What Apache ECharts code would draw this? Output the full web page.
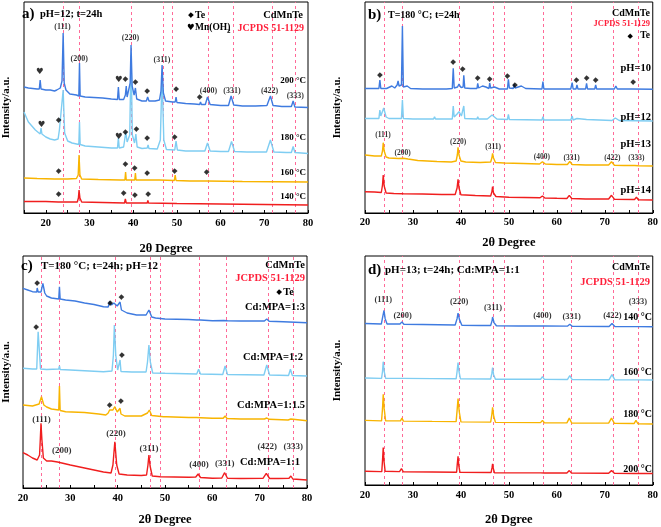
<!DOCTYPE html>
<html><head><meta charset="utf-8">
<script src="https://cdn.jsdelivr.net/npm/echarts@6/dist/echarts.min.js"></script>
<style>html,body{margin:0;padding:0;background:#fff}#c{width:661px;height:527px}</style>
</head><body><div id="c"></div>
<script>
// JCPDS 51-1129 reference positions (2θ)
const refLines = [23.95, 27.75, 39.55, 46.8, 49.0, 57.25, 63.0, 71.85, 77.0];
const tickLabels = [20, 30, 40, 50, 60, 70, 80];

// ---------- panel a: pH=12, t=24h, temperature series ----------
const a200 = [[15,126],[16,125],[17,124.5],[18,124],[18.5,124],[18.7,133],[18.9,124],[20,123],[21,123],[22,122],[22.5,123],[23.3,125],[23.7,132],[23.96,180],[24.2,130],[24.6,123],[25.5,119],[27,118],[27.55,117],[27.7,150],[27.85,117],[29,116],[31,115.5],[33,115],[35,114],[36.4,113.5],[36.6,126],[36.8,113.5],[37.8,113.5],[38.2,118],[38.4,127],[38.6,116],[39.0,117],[39.3,130],[39.5,168],[39.75,127],[40.2,118],[40.5,125],[40.8,114],[42,112],[43,112],[43.3,116],[43.6,112],[45,112],[46.0,113],[46.35,122],[46.6,148],[46.9,120],[47.4,112],[49,111],[49.6,111],[49.8,116],[50.0,110.5],[52,109.5],[54,109],[55.2,108.5],[55.4,111],[55.6,108.5],[56.5,108.5],[57.0,116],[57.6,108.5],[60,107.5],[61.8,107.5],[62.4,117],[63.0,108],[65,107],[68,107],[70.6,107.5],[71.4,117],[72.0,107.5],[74,106.5],[76.2,106.5],[76.6,112],[77.0,106],[80,105.5]];
const a180 = [[15,101],[16,91],[17,86],[17.6,83],[18.7,79],[18.9,85],[19.1,79],[20,76],[21,74],[22,73],[22.8,74],[23.1,83],[23.5,81],[23.96,123],[24.3,80],[25,72],[26,70],[27.55,68.5],[27.7,91],[27.85,68.5],[29,67],[32,66],[35,65],[36.4,65],[36.6,75],[36.8,65],[37.8,66],[38.3,81],[38.6,71],[39.2,78],[39.5,158],[39.8,78],[40.3,70],[40.6,79],[40.9,66],[42,64.5],[43.2,65],[43.4,68],[43.6,64.5],[45.5,64],[46.2,73],[46.6,138],[47.0,73],[47.6,63.5],[49.5,63],[49.8,72],[50.1,63],[52,62],[55,62],[56.4,62],[57.0,70],[57.6,62],[60,61.5],[61.8,61.5],[62.5,71.5],[63.2,61.5],[66,61],[70.5,61],[71.4,73],[72.2,61],[75,60.5],[76.2,60.5],[76.6,66.5],[77.0,60.5],[80,59.5]];
const a160 = [[15,35],[18,34.5],[22,34],[22.85,34],[23.0,36],[23.15,34],[25,34],[27.0,34.5],[27.4,38],[27.6,58],[27.8,38],[28.2,34],[32,33.5],[37,33],[38.1,33],[38.25,41],[38.4,33],[40.35,33],[40.5,40],[40.65,33],[43.2,33],[43.35,35],[43.5,33],[46,33],[49.4,32.5],[49.6,38],[49.8,32.5],[53,32],[56.8,32],[57.0,34],[57.2,32],[65,31.5],[80,31]];
const a140 = [[15,11.5],[20,11.5],[22.85,11],[23.0,13],[23.15,11],[27.2,11],[27.45,15],[27.6,23],[27.8,15],[28.2,11],[33,10.5],[38.0,10],[38.2,14],[38.4,10],[40.35,10],[40.5,12],[40.65,10],[43.2,10],[43.35,12.5],[43.5,10],[50,9.5],[60,9],[70,8.5],[80,8]];
const aHkl = [[23.8,186,'(111)'],[27.64,154,'(200)'],[39.37,175,'(220)'],[46.6,153,'(311)'],[57.2,122,'(400)'],[62.6,122,'(331)'],[71.2,122,'(422)'],[77.1,117,'(333)']];
const aTe = [[38.2,134],[40.5,131],[43.2,122],[49.8,124],[55.2,116],[22.9,93],[38.2,81],[40.7,84],[43.2,75],[49.5,76],[22.9,42],[38.2,49],[40.3,45],[43.2,40],[49.5,42],[56.8,41],[22.9,19],[37.8,20],[40.4,18],[43.4,19]];
const aMn = [[18.6,141],[36.7,133],[19.0,88],[36.7,76]];

// ---------- panel b: T=180 °C, t=24h, pH series ----------
const b10 = [[20,124.5],[22.9,124.5],[23.1,133],[23.3,124.5],[24.5,124.5],[25.6,127],[26.2,125],[26.7,128],[26.9,132],[27.1,127],[27.6,128],[27.8,187],[28.0,126],[28.8,127],[29.5,124.5],[32,124],[35,124],[37,124],[38.2,124.5],[38.4,144.7],[38.6,125],[39.3,126],[39.6,129],[40.0,125.5],[40.45,126],[40.6,137.7],[40.8,125],[42,124.5],[43.35,124.5],[43.5,129.7],[43.7,125],[44.5,127],[45.2,126],[45.85,124.5],[46.0,130],[46.2,125],[47.0,126],[48,124],[49.7,124],[49.9,133.7],[50.1,125],[50.9,124.5],[51.1,128.7],[51.3,125],[52.6,127],[53.5,124.5],[56.9,124],[57.1,131.3],[57.3,124],[62.9,124],[63.2,130.3],[63.4,124],[64.0,124],[64.2,128],[64.4,124],[66.0,124],[66.2,129.7],[66.4,124],[67.9,124],[68.1,128],[68.3,124],[72,124],[72.3,127],[72.6,124],[75.7,124],[75.9,125.7],[76.1,124],[80,123.7]];
const b12 = [[20,94.5],[22.9,94.5],[23.1,103],[23.3,97],[23.9,105],[24.4,96],[25,94.5],[27.6,94.5],[27.8,113],[28.0,94.5],[30,94],[34.3,94],[34.5,96.3],[34.7,94],[37,94],[38.2,94],[38.4,107],[38.6,96],[39.2,99],[39.6,101.3],[40.1,97],[40.45,97],[40.6,107],[40.8,94.5],[43.35,94],[43.5,96.3],[43.7,94],[45.5,94],[46.5,98],[46.9,98],[47.5,94],[49.7,93.5],[49.9,98.7],[50.1,93.5],[56.9,93],[57.1,96.3],[57.3,93],[62.9,93],[63.2,97],[63.4,93],[64.2,94.5],[66.2,93.5],[71.5,92.5],[72.2,95],[73,92.5],[80,92]];
const b13 = [[20,58],[22,57],[23.4,57],[23.65,62],[23.8,70.3],[24.0,62],[24.4,56],[25,55],[27,54.5],[28,54.8],[29,54],[31,52.5],[35,51.5],[38,51],[39.0,52],[39.25,58],[39.4,65.7],[39.6,58],[40.0,52],[41,51],[44,50.5],[46.2,51],[46.45,55],[46.6,59.7],[46.8,55],[47.2,50.5],[49,50],[53,49.5],[56.4,49],[57.0,51.3],[57.6,49],[60,48.5],[62.2,48.5],[62.7,51.5],[63.2,48.5],[66,48],[70.8,48],[71.4,51.3],[72.0,47.8],[74,47.5],[76.2,47.5],[76.6,49],[77.0,47.3],[80,47]];
const b14 = [[20,21.3],[22,21],[23.4,20.5],[23.65,28],[23.8,38],[24.0,27],[24.4,20],[26,19.5],[28,19.3],[32,19],[36,18.5],[38.8,18.5],[39.2,25],[39.4,33.7],[39.6,25],[40.0,18.3],[43,17.5],[46.2,17],[46.45,21],[46.6,26.3],[46.8,20],[47.3,16.5],[50,15.7],[56.5,15.2],[57.0,17],[57.5,15],[60,14.7],[62.1,14.5],[62.6,17.7],[63.1,14.5],[66,14],[70.8,14],[71.4,17.7],[72.0,13.8],[76.2,13.5],[76.6,15.7],[77.0,13.3],[80,13]];
const bHkl = [[23.75,78,'(111)'],[27.85,60,'(200)'],[39.4,71.3,'(220)'],[46.7,66.3,'(311)'],[56.9,56.3,'(400)'],[63.1,55.3,'(331)'],[71.6,55.3,'(422)'],[76.6,55.3,'(333)']];
const bTe = [[23.1,138],[38.4,150.7],[40.35,143.7],[43.5,134.7],[46.0,133.7],[49.7,137],[51.25,128],[64.1,133],[66.2,134.7],[68.1,133],[75.9,131.3]];

// ---------- panel c: T=180 °C, t=24h, pH=12, Cd:MPA series ----------
const c13 = [[20,199.7],[21,198],[22,196.3],[22.9,196],[23.0,200],[23.2,196],[23.8,196],[24.2,204.7],[24.6,195],[25,192],[26,190],[27.55,189],[27.7,201.3],[27.85,189],[29,188],[31,187],[33,185],[35,183.5],[37,181.3],[38.0,181],[38.3,186.3],[38.7,183],[39.2,185],[39.5,187],[39.9,182],[40.3,181],[40.5,186],[40.8,178],[42,175],[44,173],[46.0,173],[46.6,178],[47.2,171],[48,170],[50,169],[50.3,170],[55,168.5],[56.7,168],[57.1,170],[57.5,168],[60,167.3],[62.4,167.5],[62.8,169.5],[63.2,167.3],[66,167],[71.0,167],[71.5,169],[72.0,166.8],[75,166.3],[80,165.3]];
const c12 = [[20,119.7],[22,119],[22.9,119],[23.2,156.3],[23.7,119],[25,118.5],[27.55,119],[27.7,122],[27.85,118.5],[30,118],[34,117],[37,116.3],[38.8,117],[39.1,133],[39.3,163],[39.6,133],[40.0,118],[40.35,117],[40.5,128],[40.7,116.5],[43,116],[46.0,116],[46.3,126],[46.6,143],[46.9,126],[47.4,115],[50,114.7],[56.7,114],[57.1,118.7],[57.5,114],[62.2,113.5],[62.7,122],[63.2,113.5],[70.9,113],[71.5,123],[72.1,113],[76.1,112.5],[76.5,118.7],[76.9,112.5],[80,112]];
const c15 = [[20,83],[22,82],[23.4,84],[23.9,91.3],[24.4,83],[25,81],[26,79],[27.55,78],[27.7,102],[27.85,77.5],[29,76.3],[33,75.5],[36,74],[37.5,73],[38.0,75],[38.3,78],[38.6,76],[39.0,78],[39.4,81.3],[39.9,76],[40.3,75],[40.5,79.7],[40.7,74],[41.5,72],[45,72],[46.3,75],[46.7,78],[47.2,72.5],[49.7,71.3],[50.0,73],[50.3,71.3],[55,70.5],[56.7,70.5],[57.1,71.5],[57.5,70.3],[60,69.7],[62.3,69.7],[62.7,72],[63.1,69.5],[66,69],[71.0,69],[71.5,70],[72.0,68.7],[76,68],[76.6,69],[77,67.8],[80,67.3]];
const c11 = [[20,35.3],[21,33],[22,30],[23,28],[23.5,33],[23.65,48],[23.8,64.7],[24.0,48],[24.3,30],[25,27],[26,27],[27.3,26],[27.7,28],[28.2,25],[30,23],[33,20],[35,18],[37,16],[38.6,15],[39.0,23],[39.4,46.3],[39.8,23],[40.3,14],[42,13],[45,12.5],[46.1,13],[46.4,23],[46.6,33],[46.85,22],[47.3,12],[49,11.3],[55,10.7],[56.5,11],[57.0,14],[57.5,10.5],[60,9.7],[62.0,10],[62.6,15.3],[63.2,9.7],[66,9.5],[70.7,9.7],[71.4,14.7],[72.1,9.5],[74,9.5],[76.2,9.7],[76.6,12],[77.0,9],[80,8]];
const cHkl = [[23.9,68,'(111)'],[28.2,37,'(200)'],[39.65,54.7,'(220)'],[46.6,39.7,'(311)'],[57.2,23,'(400)'],[62.6,24,'(331)'],[71.6,41.3,'(422)'],[77.1,41.3,'(333)']];
const cTe = [[23.0,205.3],[38.4,184.7],[40.8,190.7],[22.8,161.3],[40.9,133],[38.3,83],[40.7,87.3]];

// ---------- panel d: pH=13, t=24h, Cd:MPA=1:1, temperature series ----------
const d140 = [[20,165],[23.4,164.5],[23.7,172],[23.96,178.3],[24.2,170],[24.6,164.5],[27.3,164.5],[27.7,166.7],[28.1,164.3],[32,164],[38.8,163.5],[39.2,170],[39.4,175.7],[39.7,169],[40.2,163.3],[44,163],[46.2,163],[46.5,168],[46.6,171.7],[46.9,166],[47.4,162.7],[52,162.5],[56.6,162.5],[57.0,163.3],[57.5,162.5],[62.2,162.3],[62.7,164.3],[63.2,162.2],[70.9,162],[71.5,165],[72.1,162],[76.1,161.8],[76.5,163.3],[76.9,161.8],[80,161.7]];
const d160 = [[20,109.3],[23.45,109],[23.65,116],[23.8,126],[24.0,116],[24.3,109],[27.4,109],[27.7,110],[28,109],[34,108.7],[39.0,108.5],[39.2,116],[39.4,125],[39.6,116],[39.9,108.5],[46.2,108.3],[46.45,114],[46.6,120],[46.8,113],[47.2,108],[56.6,108],[57.0,110.7],[57.4,108],[62.2,107.8],[62.7,111.7],[63.2,107.8],[70.9,107.6],[71.5,112.7],[72.1,107.5],[76.1,107.4],[76.5,109.3],[76.9,107.4],[80,107.3]];
const d180 = [[20,66],[23.45,65.5],[23.65,78],[23.8,92.7],[24.0,78],[24.3,65.5],[27.4,65.5],[27.7,68.3],[28.0,65.3],[34,65],[39.0,64.8],[39.2,76],[39.4,88.3],[39.65,75],[40.0,64.5],[46.2,64.2],[46.45,72],[46.6,79.3],[46.85,70],[47.2,64],[56.6,63.7],[57.0,66],[57.4,63.6],[62.1,63.5],[62.6,68.3],[63.1,63.4],[70.8,63.2],[71.4,68.3],[72.0,63],[76.1,62.8],[76.5,66],[76.9,62.6],[80,62.3]];
const d200 = [[20,14],[23.5,13.7],[23.65,25],[23.8,38.3],[23.95,25],[24.2,14],[27.2,13.7],[27.6,16.7],[28.0,13.5],[34,13.3],[39.1,13],[39.25,22],[39.4,29.3],[39.55,20],[39.8,13],[46.3,12.8],[46.5,18],[46.6,21.7],[46.75,17],[47.0,12.5],[56.6,12.4],[57.0,14],[57.4,12.3],[62.1,12.2],[62.6,14.7],[63.1,12.1],[70.8,12],[71.4,14.7],[72.0,11.9],[76.1,11.8],[76.5,12.7],[76.9,11.8],[80,11.7]];
const dHkl = [[23.8,189.3,'(111)'],[27.85,173.3,'(200)'],[39.65,186.7,'(220)'],[46.7,180.7,'(311)'],[57.0,173.3,'(400)'],[63.1,171.7,'(331)'],[71.6,172.7,'(422)'],[76.9,186.7,'(333)']];

const COL = {blue:'#3f7be0', light:'#7fcdf2', orange:'#f8b400', red:'#f01e1e', pink:'#ff6a98'};
const SERIF = '"Liberation Serif","Times New Roman",serif';
const SANS = '"DejaVu Sans",sans-serif';

const panels = [
  {grid:{left:20, top:2, width:288, height:211}, xmin:15, ymax:211, xname:'2θ Degree', gap:29, lm:5,
   lines:[[a140,COL.red],[a160,COL.orange],[a180,COL.light],[a200,COL.blue]], hkl:aHkl, hs:8, te:aTe, mn:aMn},
  {grid:{left:365, top:2, width:288, height:211}, xmin:20, ymax:211, xname:'2θ Degree', gap:23, lm:4,
   lines:[[b14,COL.red],[b13,COL.orange],[b12,COL.light],[b10,COL.blue]], hkl:bHkl, hs:7.5, te:bTe, mn:[]},
  {grid:{left:19, top:256, width:288, height:232}, xmin:20, ymax:232, xname:'2θ Degree', gap:25, lm:5,
   lines:[[c11,COL.red],[c15,COL.orange],[c12,COL.light],[c13,COL.blue]], hkl:cHkl, hs:9, te:cTe, mn:[]},
  {grid:{left:365, top:256, width:288, height:234}, xmin:20, ymax:234, xname:'2θ Dgree', gap:28, lm:5,
   lines:[[d200,COL.red],[d180,COL.orange],[d160,COL.light],[d140,COL.blue]], hkl:dHkl, hs:8.5, te:[], mn:[]}
];
const yGaps = [12, 22, 11, 22];

const grid = [], xAxis = [], yAxis = [], series = [];
panels.forEach((p, i) => {
  grid.push(Object.assign({show:true, borderColor:'#000', borderWidth:1, backgroundColor:'transparent'}, p.grid));
  xAxis.push({type:'value', gridIndex:i, min:p.xmin, max:80, interval:5,
    name:p.xname, nameLocation:'middle', nameGap:p.gap,
    nameTextStyle:{fontFamily:SERIF, fontWeight:'bold', fontSize:12.5, color:'#000'},
    axisLine:{show:true, lineStyle:{color:'#000', width:1}},
    axisTick:{show:true, inside:true, length:3, lineStyle:{color:'#000'}},
    axisLabel:{margin:p.lm, fontFamily:SERIF, fontWeight:'bold', fontSize:10.5, color:'#000',
      formatter: v => tickLabels.indexOf(v) >= 0 ? String(v) : ''},
    splitLine:{show:false}});
  yAxis.push({type:'value', gridIndex:i, min:0, max:p.ymax,
    name:'Intensity/a.u.', nameLocation:'middle', nameGap:yGaps[i], nameRotate:90,
    nameTextStyle:{fontFamily:SERIF, fontWeight:'bold', fontSize:11, color:'#000'},
    axisLine:{show:false}, axisTick:{show:false}, axisLabel:{show:false}, splitLine:{show:false}});
  p.lines.forEach((l, k) => {
    const s = {type:'line', xAxisIndex:i, yAxisIndex:i, data:l[0], symbol:'none', showSymbol:false,
      lineStyle:{color:l[1], width:1.4}, z:2, silent:true};
    if (k === 0) {
      s.markLine = {silent:true, symbol:'none', label:{show:false}, z:1,
        lineStyle:{type:[3,3], color:COL.pink, width:1},
        data: refLines.map(v => ({xAxis:v}))};
    }
    series.push(s);
  });
  series.push({type:'scatter', xAxisIndex:i, yAxisIndex:i, symbolSize:1, itemStyle:{color:'transparent'}, z:4, silent:true,
    data: p.hkl.map(h => ({value:[h[0], h[1]], name:h[2]})),
    label:{show:true, position:'inside', formatter:'{b}', fontFamily:SERIF, fontWeight:'bold', fontSize:p.hs, color:'#000'}});
  if (p.te.length) series.push({type:'scatter', xAxisIndex:i, yAxisIndex:i, symbolSize:1, itemStyle:{color:'transparent'}, z:4, silent:true,
    data: p.te.map(h => ({value:h, name:'◆'})),
    label:{show:true, position:'inside', formatter:'{b}', fontFamily:SANS, fontSize:7.5, color:'#000'}});
  if (p.mn.length) series.push({type:'scatter', xAxisIndex:i, yAxisIndex:i, symbolSize:1, itemStyle:{color:'transparent'}, z:4, silent:true,
    data: p.mn.map(h => ({value:h, name:'♥'})),
    label:{show:true, position:'inside', formatter:'{b}', fontFamily:SANS, fontSize:8.5, color:'#000'}});
});

function txt(x, y, text, size, opts) {
  opts = opts || {};
  return {type:'text', x:x, y:y, z:10, silent:true, style:{text:text, fill:opts.color || '#000',
    font:'bold ' + size + 'px ' + (opts.family || SERIF), align:opts.align || 'left', verticalAlign:'middle'}};
}
const graphic = [
  txt(22, 14, 'a)', 15), txt(40, 14, 'pH=12; t=24h', 10.5),
  txt(188, 15, '◆', 7.5, {family:SANS}), txt(195, 15, 'Te', 10),
  txt(187, 28, '♥', 8.5, {family:SANS}), txt(195, 28, 'Mn(OH)', 9.5), txt(227, 31, '2', 7),
  txt(303, 15, 'CdMnTe', 10.5, {align:'right'}), txt(304, 28, 'JCPDS 51-1129', 10, {align:'right', color:'#ff1f3a'}),
  txt(306, 81, '200 °C', 9, {align:'right'}), txt(306, 138, '180 °C', 9, {align:'right'}),
  txt(306, 173, '160 °C', 9, {align:'right'}), txt(306, 197, '140 °C', 9, {align:'right'}),

  txt(368, 15, 'b)', 15), txt(388, 15, 'T=180 °C; t=24h', 10),
  txt(650, 13, 'CdMnTe', 10, {align:'right'}), txt(650, 24, 'JCPDS 51-1129', 8.5, {align:'right', color:'#ff1f3a'}),
  txt(633, 36, '◆', 7, {family:SANS, align:'right'}), txt(650, 36, 'Te', 9.5, {align:'right'}),
  txt(651, 68, 'pH=10', 10.5, {align:'right'}), txt(651, 117, 'pH=12', 10.5, {align:'right'}),
  txt(651, 144, 'pH=13', 10.5, {align:'right'}), txt(651, 190, 'pH=14', 10.5, {align:'right'}),

  txt(21, 266, 'c)', 15), txt(41, 266, 'T=180 °C; t=24h; pH=12', 11),
  txt(305, 265, 'CdMnTe', 10.5, {align:'right'}), txt(305, 278, 'JCPDS 51-1129', 10.5, {align:'right', color:'#ff1f3a'}),
  txt(282, 292, '◆', 7.5, {family:SANS, align:'right'}), txt(294, 292, 'Te', 10.5, {align:'right'}),
  txt(305, 307, 'Cd:MPA=1:3', 10.5, {align:'right'}), txt(303, 357, 'Cd:MPA=1:2', 10.5, {align:'right'}),
  txt(305, 405, 'Cd:MPA=1:1.5', 10.5, {align:'right'}), txt(300, 462, 'Cd:MPA=1:1', 10.5, {align:'right'}),

  txt(368, 270, 'd)', 15), txt(385, 270, 'pH=13; t=24h; Cd:MPA=1:1', 11),
  txt(650, 267, 'CdMnTe', 10, {align:'right'}), txt(650, 282, 'JCPDS 51-1129', 10.5, {align:'right', color:'#ff1f3a'}),
  txt(652, 317, '140 °C', 10, {align:'right'}), txt(652, 372, '160 °C', 10, {align:'right'}),
  txt(652, 414, '180 °C', 10, {align:'right'}), txt(652, 469, '200 °C', 10, {align:'right'})
];

const chart = echarts.init(document.getElementById('c'), null, {renderer:'canvas'});
chart.setOption({animation:false, backgroundColor:'#fff', grid, xAxis, yAxis, series, graphic});
</script>
</body></html>
